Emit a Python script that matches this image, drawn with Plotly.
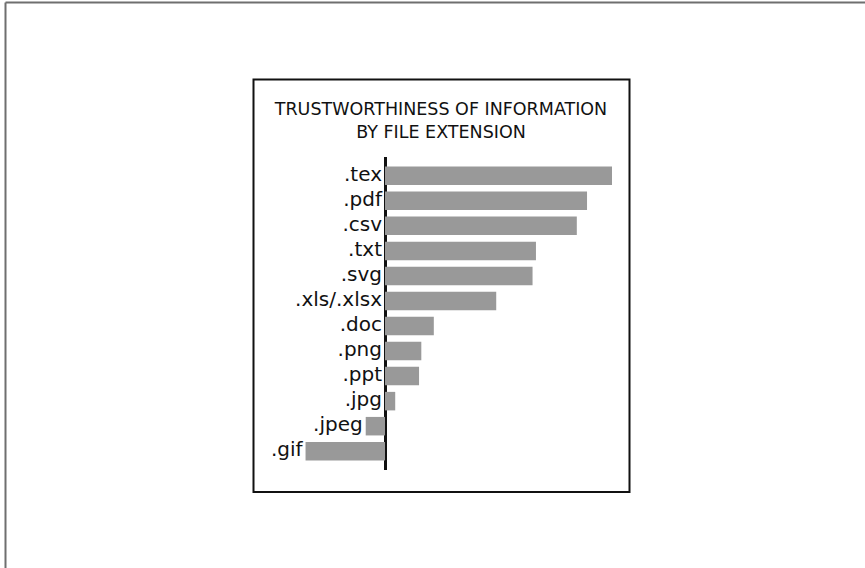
import plotly.graph_objects as go

# Data (arbitrary "trustworthiness" units)
extensions = [".tex", ".pdf", ".csv", ".txt", ".svg", ".xls/.xlsx", ".doc",
              ".png", ".ppt", ".jpg", ".jpeg", ".gif"]
trust = [10.0, 8.9, 8.45, 6.65, 6.5, 4.9, 2.15, 1.6, 1.5, 0.45, -0.85, -3.5]

title_lines = ["TRUSTWORTHINESS OF INFORMATION", "BY FILE EXTENSION"]

W, H = 865, 568
L, R, T, B = 265, 240, 157, 98          # margins in px
pw, ph = W - L - R, H - T - B
UNIT_PX = 22.7                           # px per data unit on x


def px(xp):
    return (xp - L) / pw


def py(yp):
    return (H - B - yp) / ph


FONT = "DejaVu Sans"

fig = go.Figure()
fig.add_trace(go.Bar(
    x=trust, y=extensions, orientation="h",
    marker=dict(color="#999999", line=dict(width=0)),
    hoverinfo="skip", showlegend=False,
))
# Labels sit just left of each bar's left end (axis or negative bar start)
gap = 3 / UNIT_PX
label_x = [min(0.0, v) - gap for v in trust]
fig.add_trace(go.Scatter(
    x=label_x, y=extensions, mode="text", text=extensions,
    textposition="middle left",
    textfont=dict(family=FONT, size=20, color="#111111"),
    hoverinfo="skip", showlegend=False, cliponaxis=False,
))

fig.update_layout(
    width=W, height=H,
    margin=dict(l=L, r=R, t=T, b=B),
    paper_bgcolor="white", plot_bgcolor="white",
    bargap=0.26,
    hovermode=False,
    title=dict(
        text="<br>".join(title_lines),
        x=px(441), xref="paper", xanchor="center",
        y=1 - 115 / H, yref="container", yanchor="top",
        font=dict(family=FONT, size=17.5, color="#111111"),
    ),
    xaxis=dict(range=[(L - 385) / UNIT_PX, (W - R - 385) / UNIT_PX],
               showgrid=False, showticklabels=False, ticks="",
               zeroline=True, zerolinecolor="#111111", zerolinewidth=2.5,
               fixedrange=True),
    yaxis=dict(type="category", range=[11.75, -0.75],
               showgrid=False, showticklabels=False, ticks="",
               zeroline=False, fixedrange=True),
    shapes=[
        # comic panel border
        dict(type="rect", xref="paper", yref="paper",
             x0=px(253.5), x1=px(629.5), y0=py(492), y1=py(79.5),
             line=dict(color="#111111", width=2), layer="above"),
        # outer frame lines (top and left)
        dict(type="line", xref="paper", yref="paper",
             x0=px(5.5), x1=px(W + 2), y0=py(2.5), y1=py(2.5),
             line=dict(color="#6f6f6f", width=2)),
        dict(type="line", xref="paper", yref="paper",
             x0=px(5.5), x1=px(5.5), y0=py(2.5), y1=py(H + 2),
             line=dict(color="#6f6f6f", width=2)),
    ],
)

fig.write_html("out.html",
               config={"displayModeBar": False},
               post_script="document.body.style.margin='0';"
                           "document.body.style.overflow='hidden';")
